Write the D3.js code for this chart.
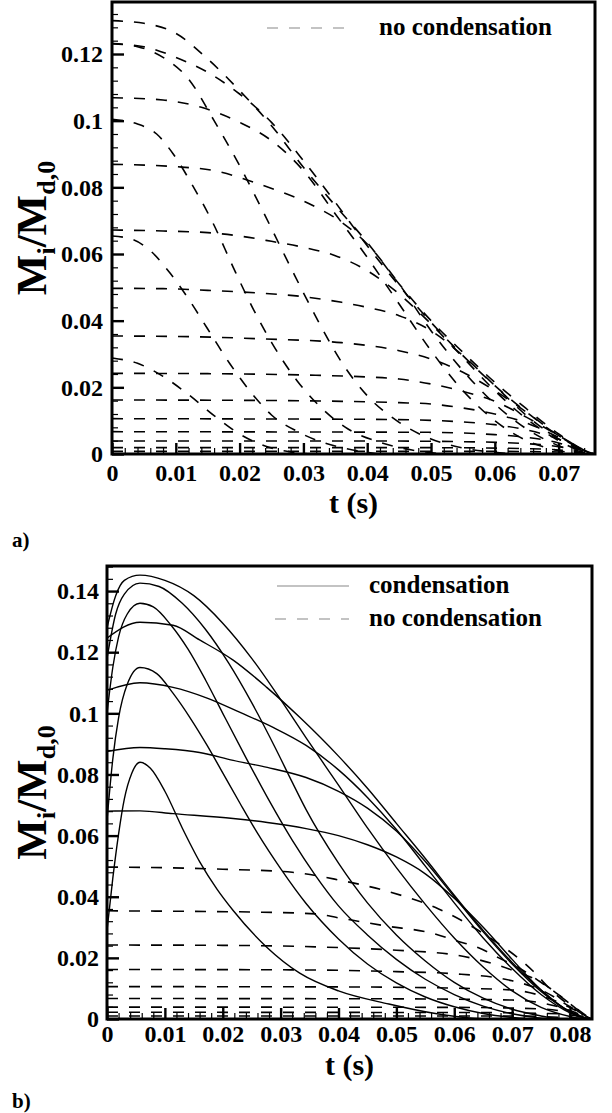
<!DOCTYPE html>
<html>
<head>
<meta charset="utf-8">
<script src="https://cdn.jsdelivr.net/npm/d3@7"></script>
<style>
  body { margin: 0; background: #fff; }
  svg text { font-family: "Liberation Serif", "Times New Roman", serif; font-weight: bold; fill: #000; }
</style>
</head>
<body>
<svg id="chart" width="612" height="1113"></svg>
<script>
// ---- panel a : no condensation (all dashed) ----
var aFlat = [
  [[0,0.1231],[0.005,0.1222],[0.010,0.119],[0.015,0.1145],[0.020,0.108],[0.025,0.0995],[0.030,0.088],[0.035,0.0755],[0.040,0.0625],[0.045,0.0505],[0.050,0.0395],[0.055,0.0295],[0.060,0.0205],[0.065,0.0125],[0.070,0.0055],[0.075,0.0004],[0.0757,0]],
  [[0,0.1069],[0.008,0.1062],[0.014,0.104],[0.020,0.0995],[0.025,0.094],[0.030,0.085],[0.035,0.072],[0.040,0.059],[0.045,0.045],[0.050,0.031],[0.055,0.019],[0.060,0.010],[0.065,0.004],[0.070,0.001],[0.074,0]],
  [[0,0.0869],[0.010,0.0862],[0.016,0.085],[0.023,0.081],[0.031,0.075],[0.036,0.0695],[0.040,0.063],[0.045,0.051],[0.050,0.037],[0.055,0.025],[0.060,0.015],[0.065,0.0075],[0.070,0.0025],[0.074,0]],
  [[0,0.0672],[0.008,0.0669],[0.015,0.0664],[0.020,0.0654],[0.025,0.0638],[0.030,0.062],[0.035,0.0595],[0.040,0.055],[0.045,0.048],[0.050,0.039],[0.055,0.029],[0.060,0.019],[0.065,0.0105],[0.070,0.004],[0.0745,0]],
  [[0,0.0497],[0.008,0.0496],[0.015,0.0491],[0.023,0.0483],[0.030,0.0472],[0.036,0.0455],[0.040,0.044],[0.045,0.0415],[0.050,0.037],[0.055,0.0295],[0.060,0.0205],[0.065,0.0115],[0.070,0.0045],[0.075,0]],
  [[0,0.0354],[0.012,0.0352],[0.024,0.0345],[0.036,0.0334],[0.045,0.031],[0.050,0.0285],[0.055,0.0245],[0.060,0.019],[0.065,0.0125],[0.070,0.0055],[0.075,0]],
  [[0,0.0242],[0.015,0.0241],[0.030,0.0237],[0.040,0.0231],[0.045,0.0225],[0.050,0.021],[0.055,0.0188],[0.060,0.0158],[0.065,0.011],[0.070,0.0055],[0.075,0]],
  [[0,0.0162],[0.020,0.0161],[0.036,0.0158],[0.045,0.0154],[0.050,0.015],[0.055,0.0138],[0.060,0.012],[0.065,0.0093],[0.070,0.005],[0.075,0]],
  [[0,0.0106],[0.025,0.0105],[0.040,0.0104],[0.050,0.0101],[0.055,0.0096],[0.060,0.0088],[0.065,0.0072],[0.070,0.0045],[0.075,0]],
  [[0,0.0067],[0.030,0.0066],[0.050,0.0065],[0.060,0.0058],[0.065,0.005],[0.070,0.0033],[0.075,0]],
  [[0,0.0039],[0.040,0.0039],[0.055,0.0037],[0.065,0.0031],[0.070,0.0022],[0.075,0]],
  [[0,0.0019],[0.050,0.0019],[0.065,0.0016],[0.070,0.0012],[0.075,0]],
  [[0,0.0008],[0.060,0.0008],[0.070,0.0006],[0.075,0]]
];
var aSteep = [
  [[0,0.130],[0.005,0.1292],[0.010,0.1262],[0.015,0.1185],[0.020,0.109],[0.025,0.0985],[0.030,0.086],[0.035,0.0745],[0.040,0.0635],[0.045,0.051],[0.050,0.040],[0.055,0.0305],[0.060,0.0215],[0.065,0.0135],[0.070,0.006],[0.0745,0.0008],[0.0757,0]],
  [[0,0.1231],[0.004,0.1222],[0.008,0.119],[0.012,0.1125],[0.016,0.100],[0.020,0.0865],[0.024,0.0715],[0.028,0.056],[0.032,0.041],[0.036,0.0275],[0.040,0.0175],[0.045,0.0095],[0.050,0.0045],[0.055,0.0018],[0.060,0.0005],[0.063,0]],
  [[0,0.1004],[0.004,0.099],[0.007,0.096],[0.0096,0.090],[0.0125,0.081],[0.0159,0.069],[0.019,0.056],[0.022,0.044],[0.025,0.0335],[0.029,0.022],[0.033,0.0135],[0.037,0.0075],[0.042,0.0035],[0.047,0.0012],[0.052,0]],
  [[0,0.0654],[0.003,0.0645],[0.006,0.061],[0.009,0.0545],[0.012,0.0465],[0.015,0.0375],[0.0185,0.027],[0.022,0.018],[0.025,0.0117],[0.029,0.0068],[0.033,0.0035],[0.037,0.0015],[0.042,0]],
  [[0,0.0288],[0.004,0.0272],[0.008,0.0233],[0.012,0.0178],[0.016,0.0115],[0.020,0.006],[0.024,0.0024],[0.028,0.0006],[0.031,0]]
];

// ---- panel b : condensation (solid) vs no condensation (dashed) ----
var bNarrow = [
  [[0,0.118],[0.0015,0.1325],[0.003,0.139],[0.0057,0.1426],[0.009,0.1415],[0.013,0.136],[0.017,0.1275],[0.021,0.1165],[0.025,0.1035],[0.029,0.089],[0.032,0.0775],[0.0344,0.0685],[0.040,0.051],[0.045,0.038],[0.050,0.0275],[0.055,0.019],[0.060,0.012],[0.065,0.0068],[0.070,0.0032],[0.075,0.001],[0.078,0]],
  [[0,0.100],[0.001,0.115],[0.002,0.125],[0.0035,0.1325],[0.0057,0.136],[0.008,0.1348],[0.011,0.129],[0.014,0.121],[0.017,0.111],[0.020,0.100],[0.024,0.0855],[0.028,0.0715],[0.032,0.0585],[0.036,0.047],[0.040,0.037],[0.045,0.0275],[0.050,0.0195],[0.055,0.013],[0.060,0.008],[0.065,0.0042],[0.070,0.0017],[0.075,0.0003],[0.077,0]],
  [[0,0.065],[0.001,0.085],[0.002,0.0985],[0.0035,0.1095],[0.0057,0.115],[0.0086,0.113],[0.0114,0.1066],[0.0143,0.0987],[0.0173,0.0895],[0.020,0.0805],[0.023,0.0705],[0.026,0.0608],[0.030,0.0492],[0.0344,0.0378],[0.040,0.0262],[0.045,0.018],[0.050,0.0118],[0.055,0.0072],[0.060,0.004],[0.065,0.0018],[0.070,0.0005],[0.073,0]],
  [[0,0.029],[0.001,0.046],[0.002,0.0605],[0.003,0.072],[0.0043,0.0805],[0.0057,0.084],[0.0075,0.082],[0.010,0.0745],[0.013,0.0625],[0.016,0.0515],[0.019,0.0425],[0.0218,0.0355],[0.0276,0.0235],[0.0333,0.015],[0.040,0.0092],[0.0487,0.0049],[0.057,0.0017],[0.063,0.0003],[0.066,0]]
];
var bBroad = [
  [[0,0.128],[0.0015,0.1385],[0.003,0.1435],[0.0057,0.1452],[0.010,0.1435],[0.015,0.1385],[0.020,0.1295],[0.025,0.118],[0.030,0.1045],[0.0344,0.092],[0.040,0.0765],[0.045,0.0625],[0.050,0.0495],[0.055,0.0375],[0.060,0.0265],[0.065,0.017],[0.070,0.0092],[0.075,0.0038],[0.080,0.0008],[0.082,0]],
  [[0,0.1246],[0.0057,0.1298],[0.0114,0.1288],[0.016,0.124],[0.0218,0.1174],[0.0276,0.1085],[0.0333,0.0987],[0.040,0.086],[0.045,0.0755],[0.050,0.064],[0.055,0.0525],[0.060,0.0405],[0.065,0.029],[0.070,0.0185],[0.075,0.0095],[0.079,0.0035],[0.0825,0.0005],[0.0836,0]],
  [[0,0.1075],[0.0057,0.110],[0.0114,0.1085],[0.0173,0.105],[0.023,0.1003],[0.0287,0.0954],[0.0344,0.0895],[0.040,0.0815],[0.045,0.0725],[0.050,0.062],[0.055,0.050],[0.060,0.038],[0.065,0.0265],[0.070,0.0165],[0.075,0.008],[0.079,0.003],[0.082,0.0005],[0.083,0]],
  [[0,0.0875],[0.0057,0.0888],[0.010,0.0884],[0.016,0.0872],[0.0218,0.0846],[0.0277,0.0823],[0.0344,0.079],[0.040,0.0745],[0.045,0.069],[0.050,0.0615],[0.055,0.0515],[0.060,0.040],[0.065,0.0285],[0.070,0.018],[0.075,0.009],[0.079,0.0035],[0.082,0.0007],[0.0832,0]],
  [[0,0.068],[0.0057,0.0681],[0.0114,0.0672],[0.0218,0.0656],[0.0277,0.0643],[0.0344,0.0623],[0.040,0.060],[0.045,0.057],[0.050,0.053],[0.055,0.0475],[0.060,0.0395],[0.065,0.030],[0.070,0.0195],[0.075,0.0095],[0.079,0.0035],[0.082,0.0007],[0.0832,0]]
];
var bDashed = [
  [[0,0.0497],[0.010,0.0495],[0.020,0.049],[0.032,0.048],[0.040,0.0455],[0.048,0.042],[0.0573,0.036],[0.065,0.028],[0.0736,0.0157],[0.077,0.009],[0.081,0.003],[0.0836,0]],
  [[0,0.0354],[0.015,0.0352],[0.025,0.035],[0.036,0.0344],[0.040,0.0331],[0.048,0.0305],[0.0563,0.028],[0.0603,0.0256],[0.0642,0.0233],[0.0677,0.020],[0.0712,0.0167],[0.0746,0.0125],[0.078,0.008],[0.081,0.0035],[0.0836,0]],
  [[0,0.0242],[0.020,0.0241],[0.036,0.0236],[0.050,0.0225],[0.060,0.021],[0.070,0.016],[0.075,0.012],[0.080,0.005],[0.0836,0]],
  [[0,0.0162],[0.030,0.0161],[0.050,0.0155],[0.060,0.0148],[0.070,0.0125],[0.075,0.0095],[0.080,0.004],[0.0836,0]],
  [[0,0.0106],[0.040,0.0105],[0.060,0.0101],[0.070,0.0095],[0.078,0.0055],[0.0836,0]],
  [[0,0.0067],[0.050,0.0066],[0.070,0.0062],[0.078,0.004],[0.0836,0]],
  [[0,0.0039],[0.060,0.0038],[0.075,0.0033],[0.080,0.002],[0.0836,0]],
  [[0,0.0022],[0.065,0.0021],[0.078,0.0017],[0.0836,0]],
  [[0,0.001],[0.070,0.001],[0.0836,0]]
];

// ticks
var aXTicks = [0, 0.01, 0.02, 0.03, 0.04, 0.05, 0.06, 0.07];
var aXTickLabels = ["0", "0.01", "0.02", "0.03", "0.04", "0.05", "0.06", "0.07"];
var bXTicks = [0, 0.01, 0.02, 0.03, 0.04, 0.05, 0.06, 0.07, 0.08];
var bXTickLabels = ["0", "0.01", "0.02", "0.03", "0.04", "0.05", "0.06", "0.07", "0.08"];
var aYTicks = [0, 0.02, 0.04, 0.06, 0.08, 0.1, 0.12];
var aYTickLabels = ["0", "0.02", "0.04", "0.06", "0.08", "0.1", "0.12"];
var bYTicks = [0, 0.02, 0.04, 0.06, 0.08, 0.1, 0.12, 0.14];
var bYTickLabels = ["0", "0.02", "0.04", "0.06", "0.08", "0.1", "0.12", "0.14"];

var svg = d3.select("#chart");
var dash = "11,11";

function drawPanel(p) {
  var x = d3.scaleLinear().domain(p.xDomain).range([p.left, p.right]);
  var y = d3.scaleLinear().domain(p.yDomain).range([p.bottom, p.top]);
  var g = svg.append("g");

  g.append("clipPath").attr("id", p.id + "clip")
    .append("rect")
    .attr("x", p.left).attr("y", p.top)
    .attr("width", p.right - p.left).attr("height", p.bottom - p.top);

  // minor ticks
  var yMinor = d3.range(0, p.yDomain[1], 0.004).filter(function(v) { return Math.abs(v / 0.02 - Math.round(v / 0.02)) > 1e-6; });
  var xMinor = d3.range(0, p.xDomain[1], 0.002).filter(function(v) { return Math.abs(v / 0.01 - Math.round(v / 0.01)) > 1e-6; });
  g.append("g").attr("transform", "translate(" + p.left + ",0)")
    .call(d3.axisLeft(y).tickValues(yMinor).tickSize(-6).tickFormat(""))
    .call(function(s) { s.select(".domain").remove(); s.selectAll("line").attr("stroke-width", 1.2); });
  g.append("g").attr("transform", "translate(0," + p.bottom + ")")
    .call(d3.axisBottom(x).tickValues(xMinor).tickSize(-6).tickFormat(""))
    .call(function(s) { s.select(".domain").remove(); s.selectAll("line").attr("stroke-width", 1.2); });

  // major ticks + labels
  g.append("g").attr("transform", "translate(" + p.left + ",0)")
    .call(d3.axisLeft(y).tickValues(p.yTicks).tickSize(-12).tickPadding(p.yPad)
      .tickFormat(function(d, i) { return p.yLabels[i]; }))
    .call(function(s) {
      s.select(".domain").remove();
      s.selectAll("line").attr("stroke-width", 2.4);
      s.attr("font-size", 24);
    });
  g.append("g").attr("transform", "translate(0," + p.bottom + ")")
    .call(d3.axisBottom(x).tickValues(p.xTicks).tickSize(-11).tickPadding(p.xPad)
      .tickFormat(function(d, i) { return p.xLabels[i]; }))
    .call(function(s) {
      s.select(".domain").remove();
      s.selectAll("line").attr("stroke-width", 2.4);
      s.attr("font-size", 24);
    });

  var line = d3.line()
    .curve(d3.curveMonotoneX)
    .x(function(d) { return x(d[0]); })
    .y(function(d) { return y(d[1]); });

  var curves = g.append("g").attr("clip-path", "url(#" + p.id + "clip)");
  p.series.forEach(function(s) {
    curves.selectAll(null)
      .data(s.data)
      .enter()
      .append("path")
      .attr("d", line)
      .attr("fill", "none")
      .attr("stroke", "#000")
      .attr("stroke-width", s.width)
      .attr("stroke-dasharray", s.dashed ? dash : null);
  });

  // frame
  g.append("rect")
    .attr("x", p.left).attr("y", p.top)
    .attr("width", p.right - p.left).attr("height", p.bottom - p.top)
    .attr("fill", "none").attr("stroke", "#000").attr("stroke-width", 3);

  // axis titles
  var cy = (p.top + p.bottom) / 2;
  var yl = g.append("text")
    .attr("transform", "translate(" + p.yTitleX + "," + cy + ") rotate(-90)")
    .attr("text-anchor", "middle")
    .attr("font-size", 43);
  yl.append("tspan").text("M");
  yl.append("tspan").attr("dy", 9).attr("font-size", 26).text("i");
  yl.append("tspan").attr("dy", -9).text("/M");
  yl.append("tspan").attr("dy", 9).attr("font-size", 26).text("d,0");

  g.append("text")
    .attr("x", (p.left + p.right) / 2).attr("y", p.xTitleY)
    .attr("text-anchor", "middle").attr("font-size", 30)
    .text("t (s)");

  g.append("text").attr("x", 12).attr("y", p.tagY).attr("font-size", 21).text(p.tag);

  // legend
  p.legend.forEach(function(l) {
    g.append("line")
      .attr("x1", l.x1).attr("x2", l.x2).attr("y1", l.y).attr("y2", l.y)
      .attr("stroke", "#888").attr("stroke-width", 1.2)
      .attr("stroke-dasharray", l.dashed ? dash : null);
    g.append("text").attr("x", l.tx).attr("y", l.y + 7).attr("font-size", 25).text(l.text);
  });
}

drawPanel({
  id: "a", left: 112, right: 595, top: 2, bottom: 454,
  xDomain: [0, 0.0757], yDomain: [0, 0.1356],
  xTicks: aXTicks, xLabels: aXTickLabels, yTicks: aYTicks, yLabels: aYTickLabels,
  yPad: 9, xPad: 10, yTitleX: 46, xTitleY: 513, tag: "a)", tagY: 547,
  series: [
    { data: aFlat, dashed: true, width: 1.6 },
    { data: aSteep, dashed: true, width: 1.6 }
  ],
  legend: [ { x1: 267, x2: 349, y: 28, tx: 379, dashed: true, text: "no condensation" } ]
});

drawPanel({
  id: "b", left: 107, right: 592, top: 566, bottom: 1019,
  xDomain: [0, 0.0838], yDomain: [0, 0.1482],
  xTicks: bXTicks, xLabels: bXTickLabels, yTicks: bYTicks, yLabels: bYTickLabels,
  yPad: 8, xPad: 6, yTitleX: 46, xTitleY: 1075, tag: "b)", tagY: 1108,
  series: [
    { data: bDashed, dashed: true, width: 1.6 },
    { data: bBroad, dashed: false, width: 1.4 },
    { data: bNarrow, dashed: false, width: 1.4 }
  ],
  legend: [
    { x1: 277, x2: 349, y: 586, tx: 369, dashed: false, text: "condensation" },
    { x1: 275, x2: 349, y: 619, tx: 369, dashed: true, text: "no condensation" }
  ]
});
</script>
</body>
</html>
